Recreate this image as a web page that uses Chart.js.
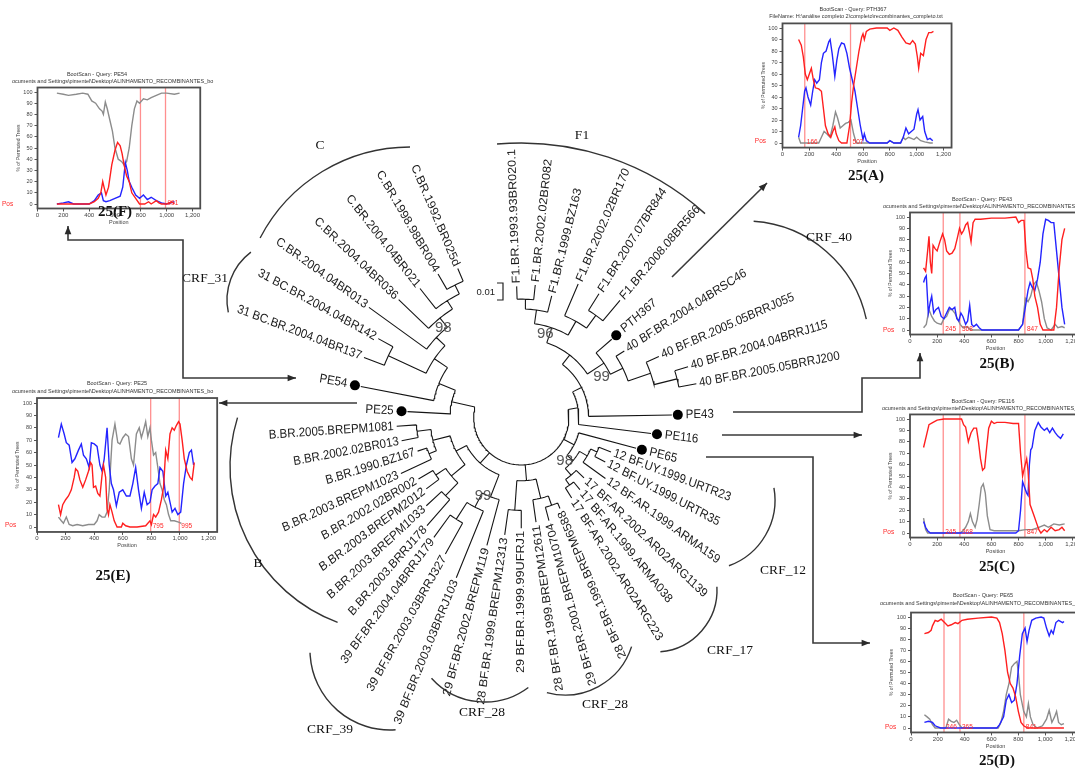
<!DOCTYPE html>
<html>
<head>
<meta charset="utf-8">
<script src="https://cdn.jsdelivr.net/npm/chart.js"></script>
<style>
  html, body { margin: 0; background: #fff; overflow: hidden; }
  #page { position: relative; width: 1075px; height: 771px; overflow: hidden; background: #fff; }
  #page canvas { position: absolute; left: 0; top: 0; }
</style>
</head>
<body>
<div id="page">
  <canvas id="tree" width="1100" height="771"></canvas>
  <canvas id="panelA" width="1100" height="771"></canvas>
  <canvas id="panelB" width="1100" height="771"></canvas>
  <canvas id="panelC" width="1100" height="771"></canvas>
  <canvas id="panelD" width="1100" height="771"></canvas>
  <canvas id="panelE" width="1100" height="771"></canvas>
  <canvas id="panelF" width="1100" height="771"></canvas>
</div>
<script>
// ---------- tree tips, clockwise from the top ----------
const leafNames = [
  'F1.BR.1993.93BR020.1', 'F1.BR.2002.02BR082', 'F1.BR.1999.BZ163', 'F1.BR.2002.02BR170',
  'F1.BR.2007.07BR844', 'F1.BR.2008.08BR566', 'PTH367',
  '40 BF.BR.2004.04BRSC46', '40 BF.BR.2005.05BRRJ055', '40 BF.BR.2004.04BRRJ115', '40 BF.BR.2005.05BRRJ200',
  'PE43', 'PE116', 'PE65',
  '12 BF.UY.1999.URTR23', '12 BF.UY.1999.URTR35', '12 BF.AR.1999.ARMA159',
  '17 BF.AR.2002.AR02ARG1139', '17 BF.AR.1999.ARMA038', '17 BF.AR.2002.AR02ARG223',
  '28 BF.BR.1999.BREPM6588', '29 BF.BR.2001.BREPM10704', '28 BF.BR.1999.BREPM12611',
  '29 BF.BR.1999.99UFRJ1', '28 BF.BR.1999.BREPM12313', '29 BF.BR.2002.BREPM119',
  '39 BF.BR.2003.03BRRJ103', '39 BF.BR.2003.03BRRJ327', '39 BF.BR.2004.04BRRJ179',
  'B.BR.2003.BRRJ178', 'B.BR.2003.BREPM1033', 'B.BR.2003.BREPM2012', 'B.BR.2002.02BR002',
  'B.BR.2003.BREPM1023', 'B.BR.1990.BZ167', 'B.BR.2002.02BR013', 'B.BR.2005.BREPM1081',
  'PE25', 'PE54', '31 BC.BR.2004.04BR137', '31 BC.BR.2004.04BR142',
  'C.BR.2004.04BR013', 'C.BR.2004.04BR036', 'C.BR.2004.04BR021', 'C.BR.1998.98BR004', 'C.BR.1992.BR025d'
];
// degrees, 0 = right, 90 = down
const leafAngles = [-92, -84, -76, -67, -58, -50, -41, -33, -24, -17, -11, -1, 7, 15, 21, 28, 36, 44, 51, 58,
  67, 75, 82, 90, 98, 105, 112, 119, 126, 131, 137, 143, 149, 155, 162, 169, 176, 183, 191, 201, 209,
  216, 224, 232, 240, 247];
// tip distance from the tree centre
const leafRadii = [133, 135, 127, 147, 148, 155, 121, 124, 152, 176, 180, 152, 132, 120, 97, 96, 105, 88, 94, 96,
  100, 108, 107, 112, 120, 134, 175, 158, 150, 145, 131, 120, 121, 134, 110, 123, 126, 115, 165, 170, 165,
  190, 172, 166, 168, 164];
const dotLeaves = [6, 11, 12, 13, 37, 38];

// internal nodes: radius and children, root last
const nodeRadii = [120, 110, 128, 112, 96, 162, 138, 114, 100, 80, 68, 58,
  84, 77, 84, 77, 68, 60, 94, 84, 94, 64, 122, 102, 86, 110, 104, 92, 100, 106, 92, 74, 62,
  150, 140, 130, 118, 148, 106, 90, 72, 48];
const nodeKids = [
  ['L0', 'L1'], ['N0', 'L2'], ['L4', 'L5'], ['L3', 'N2'], ['N1', 'N3'],
  ['L9', 'L10'], ['L8', 'N5'], ['L7', 'N6'], ['L6', 'N7'], ['N4', 'N8'], ['N9', 'L11'], ['N10', 'L12'],
  ['L14', 'L15'], ['N12', 'L16'], ['L18', 'L19'], ['L17', 'N14'], ['N13', 'N15'], ['L13', 'N16'],
  ['L20', 'L21'], ['N18', 'L22'], ['L23', 'L24'], ['N19', 'N20'],
  ['L27', 'L28'], ['L26', 'N22'], ['L25', 'N23'],
  ['L29', 'L30'], ['L31', 'L32'], ['N25', 'N26'], ['L33', 'L34'], ['L35', 'L36'], ['N28', 'N29'], ['N27', 'N30'],
  ['N24', 'N31'],
  ['L44', 'L45'], ['L43', 'N33'], ['L42', 'N34'], ['L41', 'N35'], ['L39', 'L40'], ['N37', 'N36'],
  ['L38', 'N38'], ['L37', 'N39'],
  ['N11', 'N17', 'N21', 'N32', 'N40']
];

const bootValues = ['96', '99', '98', '99', '98'];
const bootAngles = [-74, -27, 45, 116, 229];
const bootRadii = [88, 91, 62, 88, 120];

// ---------- bootscan panels ----------
const xTicks = [0, 200, 400, 600, 800, 1000, 1200];
const xTickLabels = ['0', '200', '400', '600', '800', '1,000', '1,200'];
const yTicks = [0, 10, 20, 30, 40, 50, 60, 70, 80, 90, 100];
const yTickLabels = ['0', '10', '20', '30', '40', '50', '60', '70', '80', '90', '100'];

const aRed = [[120,90],[140,85],[155,75],[170,60],[185,55],[200,60],[215,65],[230,55],[245,48],[270,47],[290,45],[305,30],[320,15],[340,8],[360,5],[375,10],[390,14],[400,8],[420,2],[440,0],[480,0],[500,15],[515,35],[530,50],[550,65],[570,80],[590,92],[600,95],[610,90],[625,97],[650,99],[700,100],[780,100],[800,98],[830,100],[860,98],[890,92],[920,87],[950,86],[970,89],[990,86],[1005,75],[1015,65],[1030,78],[1050,76],[1070,90],[1090,96],[1110,96],[1125,97]];
const aBlue = [[120,5],[135,15],[150,30],[165,45],[175,48],[190,40],[210,33],[225,45],[240,55],[255,52],[275,55],[290,70],[305,78],[325,80],[345,88],[355,90],[370,78],[390,58],[405,72],[420,82],[440,87],[460,86],[480,78],[500,65],[520,55],[540,45],[560,30],[580,15],[600,3],[610,8],[625,2],[650,0],[780,0],[800,2],[830,0],[880,0],[900,5],[920,13],[940,8],[960,10],[980,12],[1000,25],[1010,29],[1025,20],[1045,23],[1060,10],[1080,3],[1100,4],[1120,2]];
const aGray = [[120,5],[135,0],[270,0],[290,5],[310,10],[330,8],[355,5],[375,15],[395,27],[410,22],[430,13],[450,15],[470,17],[490,18],[510,20],[530,8],[550,0],[780,0],[800,2],[830,0],[880,0],[900,5],[915,3],[940,5],[960,4],[980,3],[1000,5],[1030,2],[1060,1],[1100,0],[1120,0]];
const aBreaks = [166, 507];
const aBreakLabels = ['166', '507'];

const bRed = [[100,55],[115,52],[130,70],[140,83],[150,60],[160,50],[170,75],[185,72],[200,70],[220,78],[240,85],[255,80],[270,70],[290,67],[310,68],[330,72],[350,82],[365,90],[380,85],[395,88],[410,93],[425,95],[440,85],[450,78],[465,95],[480,98],[520,98],[600,99],[700,99],[780,100],[800,95],[820,97],[840,97],[855,70],[870,55],[890,54],[905,45],[920,30],[940,20],[960,5],[980,0],[1060,0],[1080,20],[1100,55],[1120,80],[1140,90]];
const bBlue = [[100,42],[110,46],[120,48],[135,15],[150,25],[160,30],[175,15],[190,18],[210,20],[230,12],[250,10],[270,15],[290,20],[310,18],[330,20],[345,10],[360,8],[375,15],[390,12],[410,5],[425,8],[440,22],[455,5],[470,3],[490,5],[510,2],[530,0],[800,0],[830,5],[850,20],[870,35],[885,42],[900,38],[920,35],[940,45],[960,60],[980,85],[1000,98],[1020,97],[1040,95],[1060,95],[1080,70],[1100,45],[1120,20],[1140,5]];
const bGray = [[100,2],[120,5],[140,18],[160,12],[180,8],[200,6],[230,5],[250,10],[270,12],[290,18],[310,18],[330,15],[350,10],[370,5],[390,2],[420,3],[450,0],[800,0],[830,5],[850,28],[870,25],[890,30],[910,40],[930,43],[950,35],[970,25],[990,10],[1010,2],[1040,0],[1070,5],[1090,2],[1120,3],[1140,2]];
const bBreaks = [245, 368, 847];
const bBreakLabels = ['245', '368', '847'];

const cRed = [[100,75],[120,85],[140,95],[170,97],[200,99],[250,100],[380,100],[395,95],[410,93],[430,80],[450,88],[470,92],[490,92],[505,80],[520,65],[535,55],[550,57],[565,75],[580,92],[600,98],[620,96],[640,97],[700,97],[760,96],[800,96],[815,70],[830,50],[845,58],[860,65],[870,55],[885,25],[900,20],[915,15],[935,8],[950,3],[965,0],[990,3],[1010,1],[1040,5],[1070,2],[1100,3],[1120,5],[1140,2]];
const cBlue = [[100,10],[115,5],[130,2],[150,0],[780,0],[800,2],[815,20],[830,45],[845,40],[860,35],[870,33],[880,60],[890,73],[900,75],[920,90],[945,97],[965,93],[990,90],[1010,92],[1030,88],[1050,92],[1070,88],[1090,85],[1110,83],[1130,87]];
const cGray = [[100,13],[115,3],[130,0],[370,0],[390,2],[410,5],[430,10],[445,17],[460,10],[480,5],[495,12],[510,25],[525,40],[540,43],[555,35],[570,15],[590,3],[620,2],[800,2],[850,3],[900,3],[950,5],[990,7],[1020,5],[1060,8],[1100,7],[1140,8]];
const cBreaks = [245, 368, 847];
const cBreakLabels = ['245', '368', '847'];

const dRed = [[100,85],[130,86],[150,88],[160,92],[180,97],[200,96],[225,98],[250,95],[275,92],[300,93],[330,95],[350,94],[380,97],[420,98],[500,99],[600,100],[640,99],[660,95],[680,85],[700,70],[720,50],[740,40],[760,36],[780,28],[800,15],[820,5],[840,2],[870,0],[1140,0]];
const dBlue = [[100,5],[130,6],[160,5],[180,2],[220,0],[640,0],[660,3],[690,10],[710,25],[730,30],[750,23],[770,25],[790,40],[810,65],[830,85],[850,90],[865,78],[880,88],[900,97],[930,99],[970,100],[990,99],[1010,90],[1030,83],[1045,88],[1060,85],[1080,95],[1100,97],[1130,95],[1140,96]];
const dGray = [[100,12],[120,10],[140,8],[160,3],[180,0],[260,0],[280,8],[300,6],[320,5],[340,7],[360,3],[380,0],[650,0],[670,5],[690,15],[710,30],[730,40],[750,55],[770,58],[790,60],[800,50],[815,30],[840,15],[860,10],[875,22],[890,10],[910,3],[940,0],[980,2],[1010,8],[1030,16],[1050,5],[1070,10],[1085,15],[1100,5],[1120,3],[1140,4]];
const dBreaks = [246, 365, 841];
const dBreakLabels = ['246', '365', '841'];

const eRed = [[150,18],[165,10],[180,18],[200,22],[220,25],[240,30],[260,40],[270,47],[285,45],[300,38],[320,32],[340,38],[360,45],[375,52],[385,50],[395,32],[410,33],[425,27],[440,25],[455,42],[465,50],[480,40],[490,15],[500,10],[510,18],[525,12],[540,5],[560,0],[590,0],[600,3],[620,1],[650,0],[700,0],[760,1],[790,5],[800,2],[815,10],[830,8],[850,12],[870,22],[885,32],[900,62],[915,55],[930,75],[945,80],[960,78],[975,82],[990,85],[1000,83],[1015,70],[1030,55],[1050,45],[1070,40],[1085,38],[1100,52]];
const eBlue = [[150,72],[170,83],[190,75],[205,68],[225,66],[245,52],[265,55],[290,62],[310,67],[325,58],[345,55],[365,48],[380,68],[400,67],[420,65],[440,50],[455,45],[470,55],[490,80],[505,50],[520,35],[535,30],[555,17],[575,28],[600,30],[625,25],[650,25],[670,35],[690,48],[710,30],[730,15],[750,28],[770,18],[790,20],[805,30],[825,33],[845,35],[860,48],[880,45],[900,25],[915,28],[930,20],[945,12],[965,15],[985,10],[1005,12],[1025,35],[1045,50],[1065,60],[1080,62],[1095,50]];
const eGray = [[150,8],[170,5],[185,3],[205,8],[225,2],[250,1],[280,2],[320,1],[360,2],[400,2],[420,5],[435,10],[455,8],[475,8],[490,12],[505,30],[525,70],[545,83],[565,68],[580,67],[600,72],[620,75],[640,73],[660,55],[675,50],[695,75],[715,80],[730,72],[745,78],[760,85],[775,73],[790,80],[800,70],[815,58],[830,60],[845,48],[860,35],[875,30],[890,22],[905,18],[920,10],[935,5],[960,5],[990,4],[1010,3]];
const eBreaks = [795, 995];
const eBreakLabels = ['795', '995'];

const fRed = [[150,0],[400,0],[440,2],[470,5],[490,10],[505,20],[515,15],[530,8],[550,15],[575,35],[600,48],[620,55],[640,52],[655,45],[670,35],[690,25],[710,20],[730,10],[760,5],[790,0],[830,0],[860,2],[880,0],[920,3],[940,1],[960,0],[1000,0],[1040,2],[1060,0]];
const fBlue = [[150,0],[200,1],[240,2],[280,0],[400,0],[440,3],[470,8],[495,10],[510,3],[530,2],[560,3],[600,5],[640,7],[660,15],[680,37],[695,30],[710,20],[730,15],[760,8],[790,5],[820,8],[850,4],[880,6],[920,3],[960,1],[1000,0],[1060,2]];
const fGray = [[150,99],[200,98],[240,97],[300,98],[350,99],[390,98],[420,92],[450,90],[480,85],[500,83],[510,80],[525,91],[540,85],[560,75],[580,65],[600,50],[625,40],[650,38],[670,35],[690,38],[710,50],[730,70],[750,85],[770,92],[790,90],[820,94],[850,93],[880,95],[920,97],[960,99],[1000,99],[1060,98],[1100,99]];
const fBreaks = [797, 991];
const fBreakLabels = ['', '991'];

// ---------- layout ----------
const CANVAS_W = 1100, CANVAS_H = 771;
const CX = 521, CY = 418;
const TEXT_STRETCH = 1.1;   // tip labels are a little taller than wide in this figure
const SANS = '"Liberation Sans", Arial, sans-serif';
const SERIF = '"Liberation Serif", "Times New Roman", serif';
const X_MIN = 0, X_MAX = 1260, Y_MIN = -4, Y_MAX = 104;
const Y_AXIS_W = 22, X_AXIS_H = 17;

const panelBoxes = {
  A: { x0: 782.5, x1200: 943.5, y0: 143, y100: 28, title: [853, 9], file: [856, 16, 'center'], pos: [766, 141, 'right'], caption: [866, 176] },
  B: { x0: 910, x1200: 1072.8, y0: 330, y100: 217, title: [982, 199], file: [883, 206, 'left'], pos: [883, 330, 'left'], caption: [997, 364] },
  C: { x0: 910, x1200: 1072.8, y0: 533, y100: 419, title: [983, 401], file: [882, 408, 'left'], pos: [883, 532, 'left'], caption: [997, 567] },
  D: { x0: 911, x1200: 1072, y0: 728, y100: 617, title: [983, 595], file: [880, 603, 'left'], pos: [885, 727, 'left'], caption: [997, 761] },
  E: { x0: 37, x1200: 208.6, y0: 527, y100: 403, title: [117, 383], file: [12, 391, 'left'], pos: [5, 525, 'left'], caption: [113, 576] },
  F: { x0: 37.5, x1200: 192.5, y0: 204, y100: 92, title: [97, 74], file: [12, 81, 'left'], pos: [2, 204, 'left'], caption: [115, 212] }
};

const cladeArcs = [ // centre x, centre y, radius, from, to (degrees)
  [521, 418, 275, -95, -48],
  [745, 345, 124, -86, -12],
  [410, 316, 169, 207.5, 270],
  [287, 300, 60, 168, 233],
  [705, 500, 70, -10, 70],
  [655, 590, 62, -3, 85],
  [565, 625, 70, 18, 105],
  [485, 630, 72, 53, 138],
  [390, 650, 80, 86, 178],
  [396, 467, 166, 110.6, 197.3]
];
const cladeNames = [['F1', 582, 135], ['CRF_40', 829, 237], ['C', 320, 145], ['CRF_31', 205, 278],
  ['CRF_12', 783, 570], ['CRF_17', 730, 650], ['CRF_28', 605, 704], ['CRF_28', 482, 712],
  ['CRF_39', 330, 729], ['B', 258, 563]];
const arrows = [
  { pts: [[672, 277], [767, 183]], start: false },
  { pts: [[68, 226], [68, 240], [183, 240], [183, 378], [296, 378]], start: true },
  { pts: [[357, 403], [219, 403]], start: false },
  { pts: [[733, 412], [862, 412], [862, 378], [920, 378], [920, 353]], start: false },
  { pts: [[722, 435], [862, 435]], start: false },
  { pts: [[706, 457], [813, 457], [813, 643], [870, 643]], start: false }
];

Chart.defaults.font.family = SANS;
Chart.defaults.color = '#444';

// ---------- tree geometry ----------
const rad = d => d * Math.PI / 180;
const polar = (r, a) => ({ x: r * Math.cos(rad(a)), y: r * Math.sin(rad(a)) });
const gap = () => ({ x: NaN, y: NaN });

function kidAngle(k) {
  const i = +k.slice(1);
  if (k[0] === 'L') return leafAngles[i];
  const ks = nodeKids[i];
  return (kidAngle(ks[0]) + kidAngle(ks[ks.length - 1])) / 2;
}
function kidRadius(k) {
  const i = +k.slice(1);
  return k[0] === 'L' ? leafRadii[i] : nodeRadii[i];
}

const branchPts = [];
nodeKids.forEach((ks, i) => {
  const r = nodeRadii[i];
  const a0 = kidAngle(ks[0]), a1 = kidAngle(ks[ks.length - 1]);
  const n = Math.max(2, Math.ceil(Math.abs(a1 - a0) / 1.5));
  for (let s = 0; s <= n; s++) branchPts.push(polar(r, a0 + (a1 - a0) * s / n));
  branchPts.push(gap());
  ks.forEach(k => {
    const a = kidAngle(k);
    branchPts.push(polar(r, a), polar(kidRadius(k), a), gap());
  });
});
const dotPts = dotLeaves.map(i => polar(leafRadii[i] + 6, leafAngles[i]));

function arrowHead(ctx, from, to) {
  const a = Math.atan2(to[1] - from[1], to[0] - from[0]), s = 9;
  ctx.beginPath();
  ctx.moveTo(to[0], to[1]);
  ctx.lineTo(to[0] - s * Math.cos(a - 0.38), to[1] - s * Math.sin(a - 0.38));
  ctx.lineTo(to[0] - s * Math.cos(a + 0.38), to[1] - s * Math.sin(a + 0.38));
  ctx.closePath();
  ctx.fill();
}

const treeDeco = {
  id: 'treeDeco',
  afterDatasetsDraw(chart) {
    const { ctx, scales: { x, y } } = chart;
    const toPx = p => [x.getPixelForValue(p.x), y.getPixelForValue(p.y)];
    ctx.save();

    // tip labels, drawn in a slightly stretched frame
    ctx.fillStyle = '#1a1a1a';
    ctx.font = '11.5px ' + SANS;
    ctx.textBaseline = 'middle';
    leafNames.forEach((name, i) => {
      const a = leafAngles[i];
      const [lx, ly] = toPx(polar(leafRadii[i] + (dotLeaves.includes(i) ? 14 : 3), a));
      const flip = a > 60 && a < 260;
      const dir = rad(flip ? a + 180 : a);
      ctx.save();
      ctx.translate(lx, ly);
      ctx.scale(1, TEXT_STRETCH);
      ctx.rotate(Math.atan2(Math.sin(dir) / TEXT_STRETCH, Math.cos(dir)));
      ctx.textAlign = flip ? 'right' : 'left';
      ctx.fillText(name, 0, 0);
      ctx.restore();
    });

    // bootstrap support
    ctx.fillStyle = '#555';
    ctx.font = '15px ' + SANS;
    ctx.textAlign = 'center';
    bootValues.forEach((v, i) => {
      const [bx, by] = toPx(polar(bootRadii[i], bootAngles[i]));
      ctx.fillText(v, bx, by);
    });

    // scale bar
    ctx.strokeStyle = '#222';
    ctx.lineWidth = 1.2;
    ctx.beginPath();
    ctx.moveTo(497, 283); ctx.lineTo(503, 283); ctx.lineTo(503, 300); ctx.lineTo(497, 300);
    ctx.stroke();
    ctx.fillStyle = '#222';
    ctx.font = '9.5px ' + SANS;
    ctx.textAlign = 'right';
    ctx.fillText('0.01', 495, 292);

    // clade brackets
    ctx.strokeStyle = '#333';
    ctx.lineWidth = 1.4;
    cladeArcs.forEach(([cx, cy, r, a0, a1]) => {
      ctx.beginPath();
      ctx.arc(cx, cy, r, rad(a0), rad(a1));
      ctx.stroke();
    });
    ctx.fillStyle = '#111';
    ctx.font = '13.5px ' + SERIF;
    ctx.textAlign = 'center';
    cladeNames.forEach(([t, cx, cy]) => ctx.fillText(t, cx, cy));

    // arrows to the bootscan panels
    ctx.strokeStyle = '#3a3a3a';
    ctx.fillStyle = '#2a2a2a';
    ctx.lineWidth = 1.6;
    arrows.forEach(({ pts, start }) => {
      ctx.beginPath();
      ctx.moveTo(pts[0][0], pts[0][1]);
      pts.slice(1).forEach(p => ctx.lineTo(p[0], p[1]));
      ctx.stroke();
      arrowHead(ctx, pts[pts.length - 2], pts[pts.length - 1]);
      if (start) arrowHead(ctx, pts[1], pts[0]);
    });
    ctx.restore();
  }
};

new Chart('tree', {
  type: 'scatter',
  data: {
    datasets: [
      { data: dotPts, showLine: false, pointRadius: 5, pointBackgroundColor: '#000', pointBorderWidth: 0 },
      { data: branchPts, showLine: true, borderColor: '#151515', borderWidth: 1.1, pointRadius: 0, spanGaps: false }
    ]
  },
  options: {
    responsive: false,
    animation: false,
    layout: { padding: 0 },
    plugins: { legend: { display: false }, tooltip: { enabled: false } },
    scales: {
      x: { display: false, min: -CX, max: CANVAS_W - CX },
      y: { display: false, min: -CY, max: CANVAS_H - CY, reverse: true }
    }
  },
  plugins: [treeDeco]
});

// ---------- one bootscan plot ----------
function bootscan(id, box, query, fileLine, red, blue, gray, breaks, breakLabels, caption) {
  const ux = (box.x1200 - box.x0) / 1200, uy = (box.y0 - box.y100) / 100;
  const area = {
    left: box.x0 + X_MIN * ux,
    right: box.x0 + X_MAX * ux,
    top: box.y100 - (Y_MAX - 100) * uy,
    bottom: box.y0 - Y_MIN * uy
  };
  const line = (data, color) => ({ data, showLine: true, borderColor: color, borderWidth: 1.4, pointRadius: 0, tension: 0 });

  const deco = {
    id: 'deco',
    beforeDatasetsDraw(chart) {
      const { ctx, chartArea: ca, scales: { x } } = chart;
      ctx.save();
      ctx.strokeStyle = '#ff8f8f';
      ctx.lineWidth = 1.3;
      breaks.forEach(b => {
        const bx = x.getPixelForValue(b);
        ctx.beginPath(); ctx.moveTo(bx, ca.top); ctx.lineTo(bx, ca.bottom); ctx.stroke();
      });
      ctx.restore();
    },
    afterDraw(chart) {
      const { ctx, chartArea: ca, scales: { x, y } } = chart;
      ctx.save();
      ctx.strokeStyle = '#4d4d4d';
      ctx.lineWidth = 1.8;
      ctx.strokeRect(ca.left, ca.top, ca.right - ca.left, ca.bottom - ca.top);

      ctx.textBaseline = 'middle';
      ctx.fillStyle = '#333';
      ctx.font = '5.5px ' + SANS;
      ctx.textAlign = 'center';
      ctx.fillText('BootScan - Query: ' + query, box.title[0], box.title[1]);
      ctx.textAlign = box.file[2];
      ctx.fillText(fileLine, box.file[0], box.file[1]);

      ctx.fillStyle = '#ff2a2a';
      ctx.font = '6.5px ' + SANS;
      ctx.textAlign = box.pos[2];
      ctx.fillText('Pos', box.pos[0], box.pos[1]);
      ctx.textAlign = 'left';
      breaks.forEach((b, i) => ctx.fillText(breakLabels[i], x.getPixelForValue(b) + 2, y.getPixelForValue(0) - 1));

      ctx.fillStyle = '#111';
      ctx.font = 'bold 15px ' + SERIF;
      ctx.textAlign = 'center';
      ctx.fillText(caption, box.caption[0], box.caption[1]);
      ctx.restore();
    }
  };

  new Chart(id, {
    type: 'scatter',
    data: { datasets: [line(red, '#ff1f1f'), line(blue, '#2424ff'), line(gray, '#8c8c8c')] },
    options: {
      responsive: false,
      animation: false,
      layout: {
        autoPadding: false,
        padding: {
          left: area.left - Y_AXIS_W,
          top: area.top,
          right: CANVAS_W - area.right,
          bottom: CANVAS_H - area.bottom - X_AXIS_H
        }
      },
      plugins: { legend: { display: false }, tooltip: { enabled: false } },
      scales: {
        x: {
          min: X_MIN, max: X_MAX,
          afterFit: s => { s.height = X_AXIS_H; },
          afterBuildTicks: s => { s.ticks = xTicks.map(v => ({ value: v })); },
          ticks: { autoSkip: false, maxRotation: 0, padding: 0, font: { size: 6 }, color: '#444',
                   callback: (v, i) => xTickLabels[i] },
          grid: { drawOnChartArea: false, tickLength: 3, color: '#555' },
          border: { display: false },
          title: { display: true, text: 'Position', font: { size: 5.5 }, padding: 0, color: '#444' }
        },
        y: {
          min: Y_MIN, max: Y_MAX,
          afterFit: s => { s.width = Y_AXIS_W; },
          afterBuildTicks: s => { s.ticks = yTicks.map(v => ({ value: v })); },
          ticks: { autoSkip: false, padding: 2, font: { size: 5.5 }, color: '#444',
                   callback: (v, i) => yTickLabels[i] },
          grid: { drawOnChartArea: false, tickLength: 3, color: '#555' },
          border: { display: false },
          title: { display: true, text: '% of Permuted Trees', font: { size: 5 }, padding: 0, color: '#444' }
        }
      }
    },
    plugins: [deco]
  });
}

const fileRemote = 'FileName: H:\\análise completo 2\\completo\\recombinantes_completo.txt';
const fileLocal = 'ocuments and Settings\\pimentel\\Desktop\\ALINHAMENTO_RECOMBINANTES_bo';

bootscan('panelA', panelBoxes.A, 'PTH367', fileRemote, aRed, aBlue, aGray, aBreaks, aBreakLabels, '25(A)');
bootscan('panelB', panelBoxes.B, 'PE43', fileLocal + 'otscan', bRed, bBlue, bGray, bBreaks, bBreakLabels, '25(B)');
bootscan('panelC', panelBoxes.C, 'PE116', fileLocal + 'otscan', cRed, cBlue, cGray, cBreaks, cBreakLabels, '25(C)');
bootscan('panelD', panelBoxes.D, 'PE65', fileLocal + 'otscan', dRed, dBlue, dGray, dBreaks, dBreakLabels, '25(D)');
bootscan('panelE', panelBoxes.E, 'PE25', fileLocal, eRed, eBlue, eGray, eBreaks, eBreakLabels, '25(E)');
bootscan('panelF', panelBoxes.F, 'PE54', fileLocal, fRed, fBlue, fGray, fBreaks, fBreakLabels, '25(F)');
</script>
</body>
</html>
